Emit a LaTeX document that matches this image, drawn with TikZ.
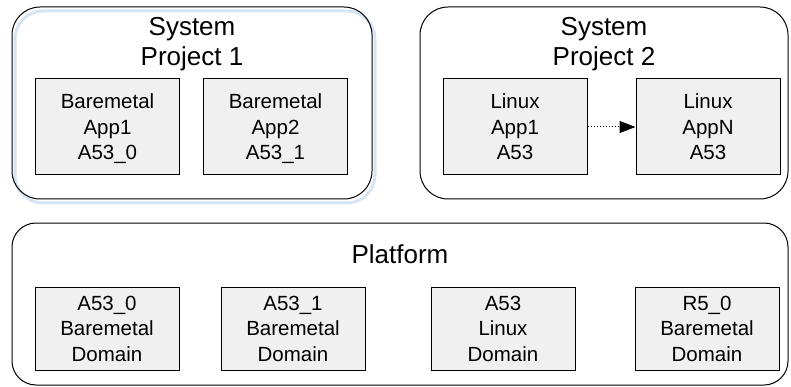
\documentclass[tikz,border=0pt]{standalone}
\usepackage{fontspec}
\setmainfont{Liberation Sans}
\usetikzlibrary{arrows.meta}
\definecolor{boxfill}{RGB}{240,240,240}
\definecolor{glow}{RGB}{214,228,244}
\newcommand{\topl}{\rule{0pt}{0.94em}}
\newcommand{\botl}{\rule[-0.22em]{0pt}{0.22em}}
\tikzset{
  appbox/.style={draw=black, line width=1pt, fill=boxfill, minimum width=144pt,
    minimum height=96pt, inner sep=0pt, align=center,
    font=\fontsize{20.5}{25.5}\selectfont},
  dombox/.style={appbox, minimum height=83pt},
  group/.style={draw=black, line width=1pt, rounded corners=28pt, inner sep=0pt},
  glowbox/.style={draw=glow, line width=3pt, rounded corners=28pt, inner sep=0pt},
  grouptitle/.style={font=\fontsize{26}{30}\selectfont, align=center, inner sep=0pt},
  flow/.style={line width=1pt, dash pattern=on 1.5pt off 1.5pt,
    -{Triangle[length=16pt,width=12pt]}}
}
\begin{document}
\begin{tikzpicture}[x=1pt,y=-1pt]
\useasboundingbox (0,0) rectangle (791,387);
% selection glow of System Project 1
\node[glowbox, minimum width=360pt, minimum height=192pt] (glow1) at (195,107) {};
% groups
\node[group, minimum width=360pt, minimum height=192pt] (sys1) at (192,103) {};
\node[group, minimum width=368pt, minimum height=192pt] (sys2) at (604,103) {};
\node[group, rounded corners=24pt, minimum width=776pt, minimum height=162pt] (plat) at (400,304) {};
% titles
\node[grouptitle] (t1) at (192,41.2) {\topl System\\Project 1\botl};
\node[grouptitle] (t2) at (604,41.2) {\topl System\\Project 2\botl};
\node[grouptitle, anchor=base] (t3) at (400,263) {Platform};
% applications
\node[appbox] (a1) at (107.5,127) {\topl Baremetal\\App1\\A53\_0\botl};
\node[appbox] (a2) at (275.5,127) {\topl Baremetal\\App2\\A53\_1\botl};
\node[appbox] (l1) at (515,127) {\topl Linux\\App1\\A53\botl};
\node[appbox] (lN) at (708,127) {\topl Linux\\AppN\\A53\botl};
% domains
\node[dombox] (d1) at (107,328.5) {\topl A53\_0\\Baremetal\\Domain\botl};
\node[dombox] (d2) at (293,328.5) {\topl A53\_1\\Baremetal\\Domain\botl};
\node[dombox] (d3) at (503,328.5) {\topl A53\\Linux\\Domain\botl};
\node[dombox] (d4) at (707,328.5) {\topl R5\_0\\Baremetal\\Domain\botl};
% connector
\draw[flow] (l1.east) -- (lN.west);
\end{tikzpicture}
\end{document}
